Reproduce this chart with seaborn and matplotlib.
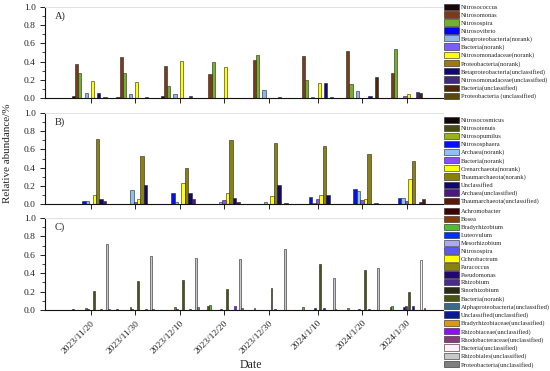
import numpy as np
import pandas as pd
import seaborn as sns
import matplotlib.pyplot as plt
from matplotlib.patches import Patch
from matplotlib.ticker import MultipleLocator

# sampling dates (day offset from 2023/11/20 keeps the real spacing)
date_labels = ["2023/11/20", "2023/11/30", "2023/12/10", "2023/12/20",
               "2023/12/30", "2024/1/10", "2024/1/20", "2024/1/30"]
days = [0, 10, 20, 30, 40, 51, 61, 71]

# A) ammonia-oxidising bacteria
taxa_a = ["Nitrosococcus", "Nitrosomonas", "Nitrosospira", "Nitrosovibrio",
          "Betaproteobacteria(norank)", "Bacteria(norank)",
          "Nitrosomonadaceae(norank)", "Proteobacteria(norank)",
          "Betaproteobacteria(unclassified)", "Nitrosomonadaceae(unclassified)",
          "Bacteria(unclassified)", "Proteobacteria (unclassified)"]
colors_a = ["#1a0808", "#7a3c18", "#74b02a", "#0000ff", "#8fb4e8", "#7a5cff",
            "#ffff00", "#9c7a10", "#10087a", "#3f2a80", "#4a2808", "#5a4a08"]
values_a = [
    [0.02, 0.01, 0.02, 0, 0, 0, 0, 0],
    [0.37, 0.45, 0.355, 0.26, 0.42, 0.46, 0.52, 0.27],
    [0.28, 0.27, 0.13, 0.40, 0.475, 0.20, 0.15, 0.54],
    [0, 0, 0, 0, 0, 0, 0, 0],
    [0.055, 0.045, 0.045, 0, 0.09, 0.01, 0.075, 0],
    [0, 0, 0, 0, 0, 0, 0, 0.02],
    [0.19, 0.18, 0.41, 0.345, 0, 0.17, 0, 0.04],
    [0, 0, 0, 0, 0, 0, 0, 0],
    [0.06, 0, 0, 0, 0, 0.16, 0.02, 0],
    [0, 0.01, 0.025, 0, 0.01, 0, 0, 0.065],
    [0.01, 0, 0, 0, 0, 0.01, 0.23, 0.06],
    [0, 0, 0, 0, 0, 0, 0, 0],
]

# B) ammonia-oxidising archaea
taxa_b = ["Nitrosocosmicus", "Nitrosotenuis", "Nitrosopumilus", "Nitrososphaera",
          "Archaea(norank)", "Bacteria(norank)", "Crenarchaeota(norank)",
          "Thaumarchaeota(norank)", "Unclassified", "Archaea(unclassified)",
          "Thaumarchaeota(unclassified)"]
colors_b = ["#100404", "#4a4a14", "#99b31a", "#0010ff", "#8ec0f0", "#8a4cff",
            "#ffff10", "#8a8010", "#10086e", "#4a1a7a", "#5a1a0a"]
values_b = [
    [0, 0, 0.005, 0, 0, 0, 0, 0],
    [0, 0, 0, 0, 0, 0, 0, 0],
    [0, 0, 0, 0, 0, 0, 0, 0],
    [0.037, 0, 0.12, 0, 0, 0.075, 0.17, 0.065],
    [0.03, 0.155, 0.02, 0.02, 0.02, 0.01, 0.14, 0.07],
    [0, 0.02, 0, 0.04, 0, 0.05, 0.04, 0.03],
    [0.095, 0.05, 0.23, 0.125, 0.09, 0.10, 0.055, 0.28],
    [0.71, 0.53, 0.40, 0.70, 0.67, 0.64, 0.55, 0.47],
    [0.06, 0.21, 0.12, 0.07, 0.205, 0.10, 0, 0],
    [0.03, 0, 0.06, 0.02, 0, 0, 0.015, 0.02],
    [0, 0, 0, 0, 0.01, 0, 0, 0.055],
]

# C) nitrogen-fixing bacteria
taxa_c = ["Achromobacter", "Bosea", "Bradyrhizobium", "Luteovulum",
          "Mesorhizobium", "Nitrosospira", "Ochrobactrum", "Paracoccus",
          "Pseudomonas", "Rhizobium", "Sinorhizobium", "Bacteria(norank)",
          "Alphaproteobacteria(unclassified)", "Unclassified(unclassified)",
          "Bradyrhizobiaceae(unclassified)", "Rhizobiaceae(unclassified)",
          "Rhodobacteraceae(unclassified)", "Bacteria(unclassified)",
          "Rhizobiales(unclassified)", "Proteobacteria(unclassified)"]
colors_c = ["#3a0404", "#8a3a0a", "#4cc02a", "#0030ff", "#aaaaf0", "#5a5af0",
            "#ffff00", "#8a8210", "#20086e", "#4a2a8a", "#2a2a14", "#4a5412",
            "#3a6a8a", "#0a1a90", "#d89a10", "#8a10ff", "#8a3a7a", "#fff0f8",
            "#c8c8c8", "#808080"]
values_c = [
    [0.01, 0.01, 0.005, 0, 0, 0, 0, 0],
    [0, 0, 0, 0.04, 0, 0, 0, 0.03],
    [0, 0, 0, 0.05, 0.02, 0.035, 0.025, 0.045],
    [0, 0, 0, 0, 0, 0, 0, 0],
    [0, 0, 0, 0, 0, 0, 0, 0],
    [0, 0, 0, 0, 0, 0, 0, 0],
    [0, 0, 0, 0, 0, 0, 0, 0],
    [0.02, 0.035, 0.03, 0, 0, 0, 0, 0],
    [0.01, 0.01, 0.01, 0.01, 0, 0.02, 0.01, 0.03],
    [0, 0, 0, 0, 0, 0, 0, 0.04],
    [0, 0, 0, 0, 0, 0, 0, 0],
    [0.205, 0.31, 0.325, 0.23, 0.24, 0.50, 0.43, 0.20],
    [0, 0, 0, 0, 0, 0, 0, 0],
    [0, 0, 0, 0, 0.01, 0.02, 0.01, 0.04],
    [0, 0, 0, 0, 0, 0, 0, 0],
    [0.01, 0.01, 0.01, 0.04, 0, 0, 0, 0],
    [0, 0, 0, 0, 0, 0, 0, 0],
    [0, 0, 0, 0, 0, 0, 0, 0.54],
    [0.72, 0.59, 0.56, 0.555, 0.66, 0.35, 0.46, 0],
    [0.01, 0.01, 0.03, 0.02, 0, 0.01, 0, 0.02],
]

sns.set_style("ticks")
plt.rcParams["font.family"] = ["Liberation Serif", "DejaVu Serif"]

W, H = 550, 371
fig = plt.figure(figsize=(W / 100, H / 100), dpi=100)

EDGE = "#222222"


def draw_panel(rect_px, taxa, colors, values, tag, legend_top, show_labels):
    left, top, right, bottom = rect_px
    ax = fig.add_axes([left / W, 1 - bottom / H, (right - left) / W, (bottom - top) / H])
    df = pd.DataFrame(
        [(d, t, v) for t, row in zip(taxa, values) for d, v in zip(days, row)],
        columns=["day", "taxon", "value"],
    )
    sns.barplot(data=df, x="day", y="value", hue="taxon", hue_order=taxa,
                palette=colors, native_scale=True, width=0.85, saturation=1,
                errorbar=None, edgecolor=EDGE, linewidth=0.4, legend=False, ax=ax)
    ax.set_xlim(-10.3, 79.2)
    ax.set_ylim(0, 1.0)
    ax.set_xticks(days)
    ax.set_xticklabels(date_labels if show_labels else [])
    if show_labels:
        for lab in ax.get_xticklabels():
            lab.set_rotation(45)
            lab.set_ha("right")
            lab.set_va("top")
            lab.set_rotation_mode("anchor")
    ax.yaxis.set_major_locator(MultipleLocator(0.2))
    ax.yaxis.set_minor_locator(MultipleLocator(0.1))
    ax.yaxis.set_major_formatter(plt.FormatStrFormatter("%.1f"))
    ax.tick_params(axis="both", which="major", direction="out", length=3.5,
                   width=0.7, labelsize=6.8, pad=3, colors="#222222")
    ax.tick_params(axis="y", which="minor", direction="out", length=2, width=0.6)
    ax.set_xlabel("")
    ax.set_ylabel("")
    ax.spines["right"].set_visible(False)
    ax.spines["top"].set_color("#e2e2e2")
    ax.spines["top"].set_linewidth(0.7)
    for s in ("left", "bottom"):
        ax.spines[s].set_color("#111111")
        ax.spines[s].set_linewidth(0.8)
    ax.text(0.025, 0.9, tag, transform=ax.transAxes, fontsize=7.5, va="center")

    handles = [Patch(facecolor=c, edgecolor=EDGE, linewidth=0.4) for c in colors]
    fig.legend(handles, taxa, loc="upper left",
               bbox_to_anchor=(444 / W, 1 - legend_top / H),
               frameon=False, fontsize=4.65, handlelength=2.3, handleheight=1.15,
               labelspacing=0.23, borderpad=0, borderaxespad=0, handletextpad=0.3)
    return ax


draw_panel((45, 7, 443, 98), taxa_a, colors_a, values_a, "A)", 3.5, False)
draw_panel((45, 113, 443, 204), taxa_b, colors_b, values_b, "B)", 117, False)
draw_panel((45, 218, 443, 310), taxa_c, colors_c, values_c, "C)", 208, True)

fig.text(8 / W, 1 - 153 / H, "Relative abundance/%", rotation=90,
         ha="center", va="center", fontsize=8)
fig.text(251 / W, 1 - 365 / H, "Date", ha="center", va="center", fontsize=8.5)

fig.savefig("out.png", dpi=100)
